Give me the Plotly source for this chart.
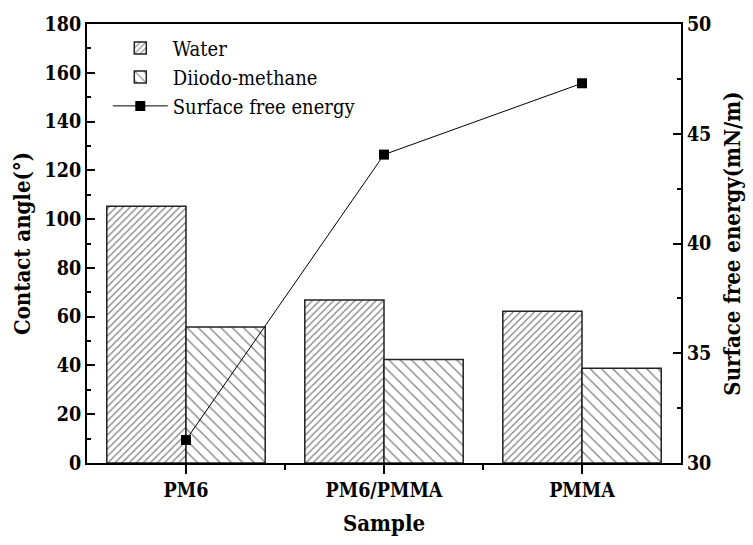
import plotly.graph_objects as go

categories = ["PM6", "PM6/PMMA", "PMMA"]
water = [105.3, 66.8, 62.2]
diiodo = [55.8, 42.4, 38.8]
surface_energy = [31.05, 44.05, 47.3]

xpos = list(range(len(categories)))
FONT = "DejaVu Serif Condensed, DejaVu Serif"

fig = go.Figure()
fig.add_trace(go.Bar(
    x=xpos, y=water, name="Water",
    marker=dict(color="white", line=dict(color="#222222", width=1.5),
                pattern=dict(shape="/", size=5, solidity=0.25, fgcolor="black", bgcolor="white")),
))
fig.add_trace(go.Bar(
    x=xpos, y=diiodo, name="Diiodo-methane",
    marker=dict(color="white", line=dict(color="#222222", width=1.5),
                pattern=dict(shape="\\", size=8, solidity=0.16, fgcolor="black", bgcolor="white")),
))
fig.add_trace(go.Scatter(
    x=xpos, y=surface_energy, name="Surface free energy", yaxis="y2",
    mode="lines+markers",
    line=dict(color="black", width=1),
    marker=dict(symbol="square", size=10, color="black"),
))

tickfont = dict(family=FONT, size=19.5, color="black", weight="bold")
titlefont = dict(family=FONT, size=22, color="black", weight="bold")

fig.update_layout(
    width=753, height=545,
    margin=dict(l=87, r=68, t=24, b=82),
    paper_bgcolor="white", plot_bgcolor="white",
    font=dict(family=FONT, color="black"),
    barmode="group", bargap=0.2, bargroupgap=0,
    showlegend=True,
    legend=dict(x=0.035, y=0.99, xanchor="left", yanchor="top",
                font=dict(family=FONT, size=20, color="black"),
                bgcolor="rgba(0,0,0,0)", tracegroupgap=0, itemwidth=55),
    xaxis=dict(
        range=[-0.5, 2.5], tickvals=xpos, ticktext=categories,
        showline=True, linecolor="black", linewidth=2, mirror=True,
        ticks="outside", ticklen=9, tickwidth=2, tickcolor="black",
        minor=dict(tickvals=[0.5, 1.5], ticks="outside", ticklen=5, tickwidth=2, tickcolor="black"),
        showgrid=False, zeroline=False, tickfont=tickfont,
        title=dict(text="Sample", font=titlefont, standoff=14),
    ),
    yaxis=dict(
        range=[0, 180], dtick=20, tick0=0,
        showline=True, linecolor="black", linewidth=2,
        ticks="inside", ticklen=8, tickwidth=2, tickcolor="black",
        minor=dict(dtick=10, ticks="inside", ticklen=4, tickwidth=1.5, tickcolor="black", showgrid=False),
        showgrid=False, zeroline=False, tickfont=tickfont,
        title=dict(text="Contact angle(°)", font=titlefont, standoff=8),
    ),
    yaxis2=dict(
        range=[30, 50], dtick=5, tick0=30, overlaying="y", side="right",
        showline=True, linecolor="black", linewidth=2,
        ticks="inside", ticklen=8, tickwidth=2, tickcolor="black",
        minor=dict(dtick=2.5, ticks="inside", ticklen=4, tickwidth=1.5, tickcolor="black", showgrid=False),
        showgrid=False, zeroline=False, tickfont=tickfont,
        title=dict(text="Surface free energy(mN/m)", font=titlefont, standoff=14),
    ),
)

fig.write_html("out.html")
